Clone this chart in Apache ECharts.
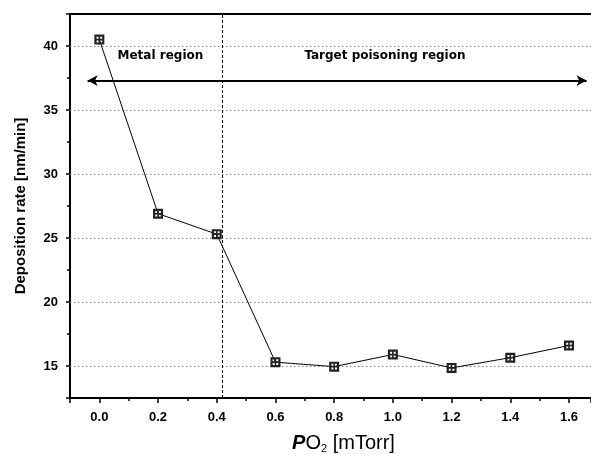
<!DOCTYPE html>
<html>
<head>
<meta charset="utf-8">
<script src="https://cdn.jsdelivr.net/npm/echarts@6/dist/echarts.min.js"></script>
<style>html,body{margin:0;padding:0;background:#fff;}#c{width:591px;height:455px;}</style>
</head>
<body>
<div id="c"></div>
<script>
// Data
const po2 = [0.0, 0.2, 0.4, 0.6, 0.8, 1.0, 1.2, 1.4, 1.6];
const depositionRate = [40.5, 26.9, 25.3, 15.3, 14.95, 15.9, 14.85, 15.65, 16.6];
const yGridValues = [15, 20, 25, 30, 35, 40];
const boundaryX = 0.42;
const arrowY = 37.3;
const arrowFromX = -0.04;
const arrowToX = 1.66;
const labelY = 39.2;
const metalLabelX = 0.208;
const targetLabelX = 0.973;

const chart = echarts.init(document.getElementById('c'));
const markerPath = 'path://M0,0H10V10H0Z M2.2,2.2V4.2H4.2V2.2Z M5.8,2.2V4.2H7.8V2.2Z M2.2,5.8V7.8H4.2V5.8Z M5.8,5.8V7.8H7.8V5.8Z';
const annoFont = {fontFamily: '"DejaVu Sans", sans-serif', fontWeight: 'bold', fontSize: 12, color: '#000'};

chart.setOption({
  animation: false,
  backgroundColor: '#fff',
  grid: {left: 70, top: 14, right: 0, bottom: 57, outerBoundsMode: 'none', containLabel: false},
  xAxis: [{
    type: 'value', min: -0.1, max: 1.675, splitNumber: 9,
    name: '{p|P}{o|O}{s|2}{u| [mTorr]}',
    nameLocation: 'middle', nameGap: 34,
    nameTextStyle: {
      padding: [0, 0, 0, 26],
      rich: {
        p: {fontFamily: '"Liberation Sans", Arial', fontWeight: 'bold', fontStyle: 'italic', fontSize: 20, color: '#000'},
        o: {fontFamily: '"Liberation Sans", Arial', fontSize: 20, color: '#000'},
        s: {fontFamily: '"Liberation Sans", Arial', fontSize: 11, color: '#000', padding: [11, 0, 0, 0]},
        u: {fontFamily: '"Liberation Sans", Arial', fontSize: 20, color: '#000'}
      }
    },
    axisLine: {onZero: false, lineStyle: {color: '#000', width: 2}},
    axisTick: {inside: false, length: 5, lineStyle: {color: '#000', width: 1.5}},
    minorTick: {show: true, splitNumber: 2, length: 3, lineStyle: {color: '#000', width: 1.5}},
    axisLabel: {showMinLabel: false, showMaxLabel: false, margin: 13,
      fontFamily: '"Liberation Sans", Arial', fontWeight: 'bold', fontSize: 13, color: '#000',
      formatter: v => v.toFixed(1)},
    splitLine: {show: false}
  }, {
    type: 'value', position: 'top', min: -0.1, max: 1.675,
    axisLine: {onZero: false, lineStyle: {color: '#000', width: 2}},
    axisTick: {show: false}, axisLabel: {show: false}, splitLine: {show: false}
  }],
  yAxis: {
    type: 'value', min: 12.5, max: 42.5, splitNumber: 6,
    name: 'Deposition rate [nm/min]',
    nameLocation: 'middle', nameGap: 42,
    nameTextStyle: {fontFamily: '"Liberation Sans", Arial', fontWeight: 'bold', fontSize: 15, color: '#000'},
    axisLine: {onZero: false, lineStyle: {color: '#000', width: 2}},
    axisTick: {inside: false, length: 4, lineStyle: {color: '#000', width: 1.5}},
    minorTick: {show: true, splitNumber: 2, length: 3, lineStyle: {color: '#000', width: 1.5}},
    axisLabel: {showMinLabel: false, showMaxLabel: false, margin: 12,
      fontFamily: '"Liberation Sans", Arial', fontWeight: 'bold', fontSize: 13, color: '#000'},
    splitLine: {show: false}
  },
  series: [{
    type: 'line',
    data: po2.map((x, i) => [x, depositionRate[i]]),
    symbol: markerPath, symbolSize: 10,
    itemStyle: {color: '#222'},
    lineStyle: {color: '#000', width: 1},
    z: 5,
    markLine: {
      silent: true, symbol: 'none', label: {show: false},
      data: [
        ...yGridValues.map(v => ({yAxis: v, lineStyle: {color: '#888', type: [1.5, 2.5], width: 1}})),
        {xAxis: boundaryX, lineStyle: {color: '#000', type: [3, 2], width: 1}},
        [{coord: [arrowFromX, arrowY], symbol: 'arrow', symbolSize: [8, 10]},
         {coord: [arrowToX, arrowY], symbol: 'arrow', symbolSize: [8, 10], lineStyle: {color: '#000', width: 2, type: 'solid'}}]
      ]
    },
    markPoint: {
      silent: true, symbol: 'rect', symbolSize: 1,
      itemStyle: {color: 'rgba(0,0,0,0)'},
      data: [
        {coord: [metalLabelX, labelY], label: Object.assign({show: true, position: 'inside', formatter: 'Metal region'}, annoFont)},
        {coord: [targetLabelX, labelY], label: Object.assign({show: true, position: 'inside', formatter: 'Target poisoning region'}, annoFont)}
      ]
    }
  }]
});
</script>
</body>
</html>
